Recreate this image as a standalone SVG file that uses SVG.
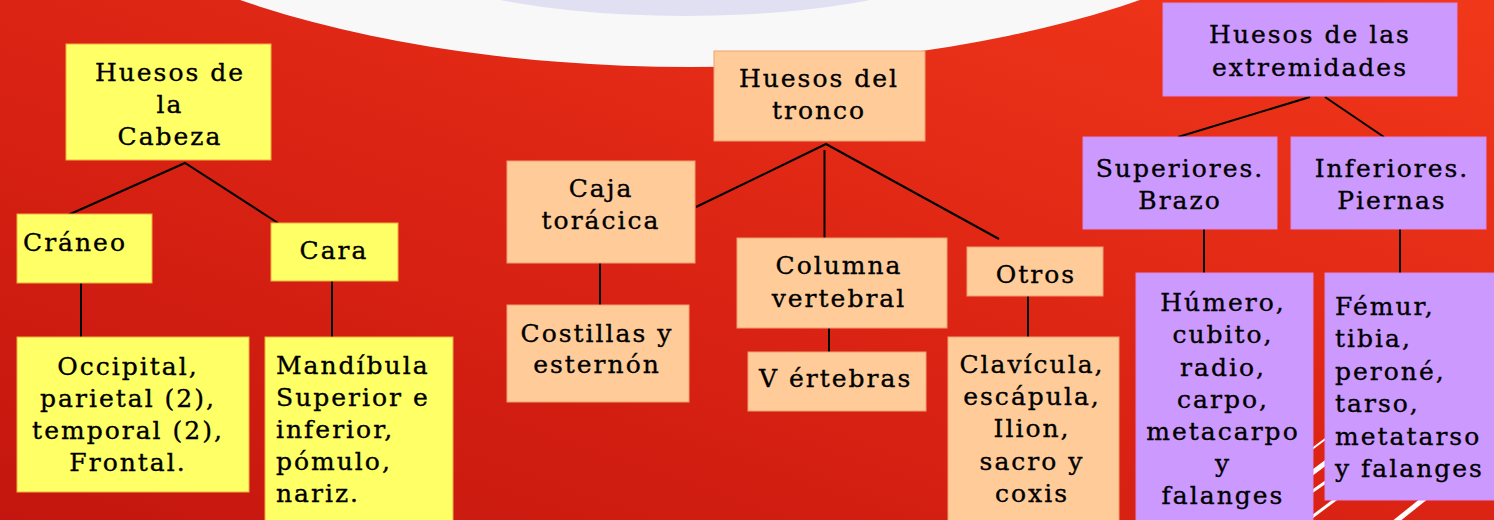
<svg xmlns="http://www.w3.org/2000/svg" width="1494" height="520" viewBox="0 0 1494 520">
<defs>
<linearGradient id="bg" x1="0" y1="1" x2="1" y2="0">
<stop offset="0" stop-color="#c4160e"/>
<stop offset="0.5" stop-color="#dc2414"/>
<stop offset="1" stop-color="#f2381a"/>
</linearGradient>
<style>
.t{font-family:"DejaVu Serif","Liberation Serif",serif;font-size:25px;letter-spacing:2px;fill:#000;stroke:#000;stroke-width:0.35px}
.c{text-anchor:middle}
.y{fill:#ffff66;stroke:#f0b040;stroke-width:1}
.p{fill:#ffcc99;stroke:#f0a070;stroke-width:1}
.v{fill:#cc99ff;stroke:#d888e8;stroke-width:1}
.ln{stroke:#000;stroke-width:2;fill:none}
.st{stroke:#fff;fill:none}
</style>
</defs>
<rect width="1494" height="520" fill="url(#bg)"/>
<ellipse cx="690" cy="-200" rx="679" ry="267" fill="#f8f8f8"/>
<ellipse cx="685" cy="-60" rx="301" ry="76" fill="#e0e0f2"/>
<g id="stripes">
<line class="st" x1="1300" y1="458" x2="1340" y2="428" stroke-width="2"/>
<line class="st" x1="1300" y1="482" x2="1340" y2="452" stroke-width="5"/>
<line class="st" x1="1300" y1="500" x2="1340" y2="472" stroke-width="3"/>
<line class="st" x1="1300" y1="526" x2="1340" y2="496" stroke-width="3"/>
<line class="st" x1="1385" y1="530" x2="1430" y2="494" stroke-width="5"/>
</g>
<g id="connectors">
<polyline class="ln" points="68,215 185,163 278,223" stroke-width="1.5"/>
<line class="ln" x1="81" y1="283" x2="81" y2="337"/>
<line class="ln" x1="332" y1="281" x2="332" y2="337"/>
<polyline class="ln" points="696,207 826,144 999,239" stroke-width="1.5"/>
<line class="ln" x1="824.5" y1="150" x2="824.5" y2="238"/>
<line class="ln" x1="600" y1="263" x2="600" y2="305"/>
<line class="ln" x1="829" y1="328" x2="829" y2="352"/>
<line class="ln" x1="1028" y1="296" x2="1028" y2="337"/>
<line class="ln" x1="1178" y1="137" x2="1310" y2="97" stroke-width="1.5"/>
<line class="ln" x1="1325" y1="97" x2="1384" y2="137" stroke-width="1.5"/>
<line class="ln" x1="1204" y1="229" x2="1204" y2="273"/>
<line class="ln" x1="1400" y1="229" x2="1400" y2="273"/>
</g>
<g id="cabeza">
<rect class="y" x="66" y="44" width="205" height="116"/>
<text class="t c" x="170" y="81">Huesos de</text>
<text class="t c" x="170" y="113">la</text>
<text class="t c" x="170" y="145">Cabeza</text>
</g>
<g id="craneo">
<rect class="y" x="17" y="214" width="135" height="69"/>
<text class="t" x="23" y="251">Cráneo</text>
</g>
<g id="cara">
<rect class="y" x="271" y="223" width="127" height="58"/>
<text class="t c" x="334" y="259">Cara</text>
</g>
<g id="occipital">
<rect class="y" x="17" y="337" width="232" height="155"/>
<text class="t c" x="128" y="375">Occipital,</text>
<text class="t c" x="128" y="407">parietal (2),</text>
<text class="t c" x="128" y="439">temporal (2),</text>
<text class="t c" x="128" y="471">Frontal.</text>
</g>
<g id="mandibula">
<rect class="y" x="265" y="337" width="188" height="190"/>
<text class="t" x="276" y="374">Mandíbula</text>
<text class="t" x="276" y="406">Superior e</text>
<text class="t" x="276" y="438">inferior,</text>
<text class="t" x="276" y="470">pómulo,</text>
<text class="t" x="276" y="502">nariz.</text>
</g>
<g id="tronco">
<rect class="p" x="714" y="51" width="211" height="90"/>
<text class="t c" x="819" y="87">Huesos del</text>
<text class="t c" x="819" y="119">tronco</text>
</g>
<g id="caja">
<rect class="p" x="507" y="161" width="188" height="102"/>
<text class="t c" x="601" y="197">Caja</text>
<text class="t c" x="601" y="229">torácica</text>
</g>
<g id="costillas">
<rect class="p" x="507" y="305" width="182" height="97"/>
<text class="t c" x="597" y="342">Costillas y</text>
<text class="t c" x="597" y="373">esternón</text>
</g>
<g id="columna">
<rect class="p" x="737" y="238" width="210" height="90"/>
<text class="t c" x="839" y="274">Columna</text>
<text class="t c" x="839" y="307">vertebral</text>
</g>
<g id="vertebras">
<rect class="p" x="748" y="352" width="178" height="59"/>
<text class="t" x="759" y="387">V értebras</text>
</g>
<g id="otros">
<rect class="p" x="967" y="247" width="136" height="49"/>
<text class="t c" x="1036" y="283">Otros</text>
</g>
<g id="clavicula">
<rect class="p" x="948" y="337" width="171" height="190"/>
<text class="t c" x="1032" y="373">Clavícula,</text>
<text class="t c" x="1032" y="405">escápula,</text>
<text class="t c" x="1032" y="437">Ilion,</text>
<text class="t c" x="1032" y="470">sacro y</text>
<text class="t c" x="1032" y="502">coxis</text>
</g>
<g id="extremidades">
<rect class="v" x="1163" y="3" width="294" height="93"/>
<text class="t c" x="1310" y="43">Huesos de las</text>
<text class="t c" x="1310" y="76">extremidades</text>
</g>
<g id="superiores">
<rect class="v" x="1083" y="137" width="194" height="92"/>
<text class="t c" x="1180" y="177">Superiores.</text>
<text class="t c" x="1180" y="209">Brazo</text>
</g>
<g id="inferiores">
<rect class="v" x="1291" y="137" width="195" height="92"/>
<text class="t c" x="1392" y="177">Inferiores.</text>
<text class="t c" x="1392" y="209">Piernas</text>
</g>
<g id="humero">
<rect class="v" x="1136" y="273" width="177" height="254"/>
<text class="t c" x="1223" y="311">Húmero,</text>
<text class="t c" x="1223" y="343">cubito,</text>
<text class="t c" x="1223" y="376">radio,</text>
<text class="t c" x="1223" y="408">carpo,</text>
<text class="t c" x="1223" y="440">metacarpo</text>
<text class="t c" x="1223" y="472">y</text>
<text class="t c" x="1223" y="504">falanges</text>
</g>
<g id="femur">
<rect class="v" x="1325" y="273" width="175" height="227"/>
<text class="t" x="1335" y="315">Fémur,</text>
<text class="t" x="1335" y="347">tibia,</text>
<text class="t" x="1335" y="380">peroné,</text>
<text class="t" x="1335" y="412">tarso,</text>
<text class="t" x="1335" y="445">metatarso</text>
<text class="t" x="1335" y="477">y falanges</text>
</g>
</svg>
